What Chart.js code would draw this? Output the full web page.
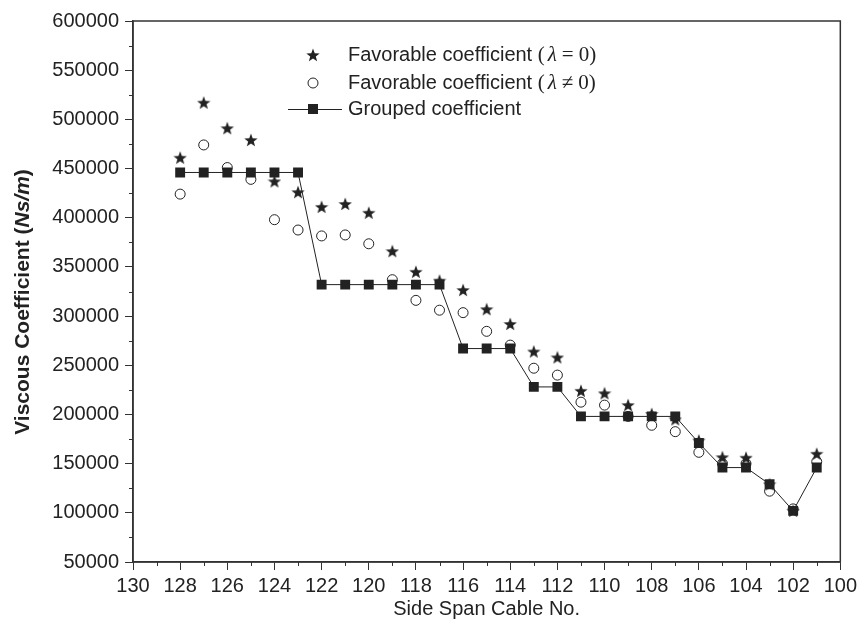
<!DOCTYPE html>
<html lang="en">
<head>
    <meta charset="UTF-8">
    <title>Viscous Coefficient vs Side Span Cable No.</title>
    <style>
        body {
            margin: 0;
            padding: 0;
            background-color: #fff;
        }
        #wrap {
            width: 861px;
            height: 629px;
            position: relative;
        }
    </style>
</head>
<body>
<div id="wrap">
    <canvas id="chart"></canvas>
</div>
<script src="https://cdn.jsdelivr.net/npm/chart.js"></script>
<script>
    // cable numbers on the x axis (axis runs 130 -> 100)
    const cables = [128, 127, 126, 125, 124, 123, 122, 121, 120, 119, 118, 117, 116, 115,
                    114, 113, 112, 111, 110, 109, 108, 107, 106, 105, 104, 103, 102, 101];
    // Favorable coefficient (lambda = 0)
    const favZero = [461000, 517000, 491000, 479000, 437000, 426000, 411000, 414000, 405000, 366000,
                     345000, 336000, 326500, 307000, 292000, 264000, 258000, 224000, 221500, 209500,
                     200500, 195000, 173500, 156500, 156000, 129000, 102000, 160000];
    // Favorable coefficient (lambda != 0)
    const favNonZero = [424000, 474000, 451000, 439000, 398000, 387500, 381500, 382500, 373500, 337000,
                        316000, 306000, 303500, 284500, 270500, 247000, 240000, 212500, 209500, 198000,
                        189000, 182500, 161500, 150000, 150000, 122000, 104000, 152000];
    // Grouped coefficient
    const grouped = [446000, 446000, 446000, 446000, 446000, 446000, 332000, 332000, 332000, 332000,
                     332000, 332000, 267000, 267000, 267000, 228000, 228000, 198000, 198000, 198000,
                     198000, 198000, 171000, 146000, 146000, 129000, 102000, 146000];
    const xTicks = [130, 128, 126, 124, 122, 120, 118, 116, 114, 112, 110, 108, 106, 104, 102, 100];
    const yTicks = [50000, 100000, 150000, 200000, 250000, 300000, 350000, 400000, 450000, 500000, 550000, 600000];

    const FONT = '"Liberation Sans", Arial, sans-serif';
    const INK = '#222';

    // filled five point star used as point style
    function makeStar(size) {
        const c = document.createElement('canvas');
        c.width = size;
        c.height = size;
        const g = c.getContext('2d');
        const cx = size / 2, cy = size / 2 + 0.6;
        const outer = size / 2, inner = outer * 0.42;
        g.beginPath();
        for (let i = 0; i < 10; i++) {
            const r = i % 2 === 0 ? outer : inner;
            const a = -Math.PI / 2 + i * Math.PI / 5;
            const px = cx + r * Math.cos(a), py = cy + r * Math.sin(a);
            if (i === 0) g.moveTo(px, py); else g.lineTo(px, py);
        }
        g.closePath();
        g.fillStyle = INK;
        g.fill();
        return c;
    }
    const starImg = makeStar(14);

    const toPoints = (vals) => cables.map((c, i) => ({x: c, y: vals[i]}));

    // frame, minor ticks, axis titles and legend
    const decorations = {
        id: 'decorations',
        afterDraw(chart) {
            const ctx = chart.ctx;
            const area = chart.chartArea;
            const xs = chart.scales.x, ys = chart.scales.y;
            ctx.save();
            ctx.strokeStyle = '#333';
            ctx.lineWidth = 1.5;
            ctx.strokeRect(area.left, area.top, area.right - area.left, area.bottom - area.top);

            // minor ticks
            ctx.lineWidth = 1;
            ctx.beginPath();
            for (let v = 101; v < 130; v += 2) {
                const px = Math.round(xs.getPixelForValue(v)) + 0.5;
                ctx.moveTo(px, area.bottom);
                ctx.lineTo(px, area.bottom + 4);
            }
            for (let v = 75000; v < 600000; v += 50000) {
                const py = Math.round(ys.getPixelForValue(v)) + 0.5;
                ctx.moveTo(area.left, py);
                ctx.lineTo(area.left - 4, py);
            }
            ctx.stroke();

            // x title
            ctx.fillStyle = INK;
            ctx.font = '20px ' + FONT;
            ctx.textAlign = 'center';
            ctx.textBaseline = 'middle';
            ctx.fillText('Side Span Cable No.', (area.left + area.right) / 2, 609);

            // y title (rotated, "Ns/m" in italic)
            ctx.save();
            ctx.translate(23, 302);
            ctx.rotate(-Math.PI / 2);
            const parts = [
                ['bold 21px ' + FONT, 'Viscous Coefficient ('],
                ['italic bold 21px ' + FONT, 'Ns/m'],
                ['bold 21px ' + FONT, ')']
            ];
            let total = 0;
            parts.forEach(p => { ctx.font = p[0]; total += ctx.measureText(p[1]).width; });
            let cx = -total / 2;
            ctx.textAlign = 'left';
            parts.forEach(p => {
                ctx.font = p[0];
                ctx.fillText(p[1], cx, 0);
                cx += ctx.measureText(p[1]).width;
            });
            ctx.restore();

            // legend
            const lx = 313, tx = 348;
            const rows = [55, 83, 109];
            ctx.drawImage(starImg, lx - 7, rows[0] - 7);
            ctx.beginPath();
            ctx.arc(lx, rows[1], 5, 0, Math.PI * 2);
            ctx.strokeStyle = INK;
            ctx.lineWidth = 1;
            ctx.stroke();
            ctx.beginPath();
            ctx.moveTo(288, rows[2] + 0.5);
            ctx.lineTo(342, rows[2] + 0.5);
            ctx.stroke();
            ctx.fillRect(lx - 5, rows[2] - 5, 10, 10);

            ctx.textAlign = 'left';
            const sans = '20px ' + FONT;
            const serif = '21px "Liberation Serif", "Times New Roman", serif';
            const serifIt = 'italic 21px "Liberation Serif", "Times New Roman", serif';
            const lambdaRow = (y, rel) => {
                let x = tx;
                ctx.font = sans;
                ctx.fillText('Favorable coefficient ', x, y);
                x += ctx.measureText('Favorable coefficient ').width;
                ctx.font = serif;
                ctx.fillText('(', x, y);
                x += ctx.measureText('(').width + 3;
                ctx.font = serifIt;
                ctx.fillText('\u03bb', x, y);
                x += ctx.measureText('\u03bb').width + 5;
                ctx.font = serif;
                ctx.fillText(rel, x, y);
                x += ctx.measureText(rel).width + 5;
                ctx.fillText('0)', x, y);
            };
            lambdaRow(rows[0], '=');
            lambdaRow(rows[1], '\u2260');
            ctx.font = sans;
            ctx.fillText('Grouped coefficient', tx, rows[2]);
            ctx.restore();
        }
    };

    new Chart(document.getElementById('chart'), {
        type: 'scatter',
        data: {
            datasets: [
                {
                    label: 'Grouped coefficient',
                    data: toPoints(grouped),
                    showLine: true,
                    borderColor: INK,
                    borderWidth: 1,
                    backgroundColor: INK,
                    pointStyle: 'rect',
                    pointRadius: 7,
                    pointBorderWidth: 0,
                    order: 0
                },
                {
                    label: 'Favorable coefficient (\u03bb = 0)',
                    data: toPoints(favZero),
                    pointStyle: starImg,
                    order: 1
                },
                {
                    label: 'Favorable coefficient (\u03bb \u2260 0)',
                    data: toPoints(favNonZero),
                    pointStyle: 'circle',
                    pointRadius: 5,
                    borderColor: INK,
                    borderWidth: 1,
                    backgroundColor: 'rgba(255,255,255,0)',
                    order: 2
                }
            ]
        },
        options: {
            responsive: true,
            maintainAspectRatio: false,
            animation: false,
            layout: {
                padding: {top: 21, right: 16, left: 0, bottom: 0}
            },
            plugins: {
                legend: {display: false},
                tooltip: {enabled: false}
            },
            scales: {
                x: {
                    type: 'linear',
                    reverse: true,
                    min: 100,
                    max: 130,
                    afterBuildTicks: (scale) => { scale.ticks = xTicks.map(v => ({value: v})); },
                    afterFit: (scale) => { scale.height = 67; },
                    ticks: {
                        color: INK,
                        font: {family: FONT, size: 20},
                        padding: 4,
                        maxRotation: 0,
                        autoSkip: false,
                        callback: (v) => String(v)
                    },
                    grid: {
                        drawOnChartArea: false,
                        drawTicks: true,
                        tickLength: 8,
                        color: '#333'
                    },
                    border: {color: '#333', width: 1.5}
                },
                y: {
                    min: 50000,
                    max: 600000,
                    afterBuildTicks: (scale) => { scale.ticks = yTicks.map(v => ({value: v})); },
                    afterFit: (scale) => { scale.width = 133; },
                    ticks: {
                        color: INK,
                        font: {family: FONT, size: 20},
                        padding: 6,
                        autoSkip: false,
                        callback: (v) => String(v)
                    },
                    grid: {
                        drawOnChartArea: false,
                        drawTicks: true,
                        tickLength: 8,
                        color: '#333'
                    },
                    border: {color: '#333', width: 1.5}
                }
            }
        },
        plugins: [decorations]
    });
</script>
</body>
</html>
